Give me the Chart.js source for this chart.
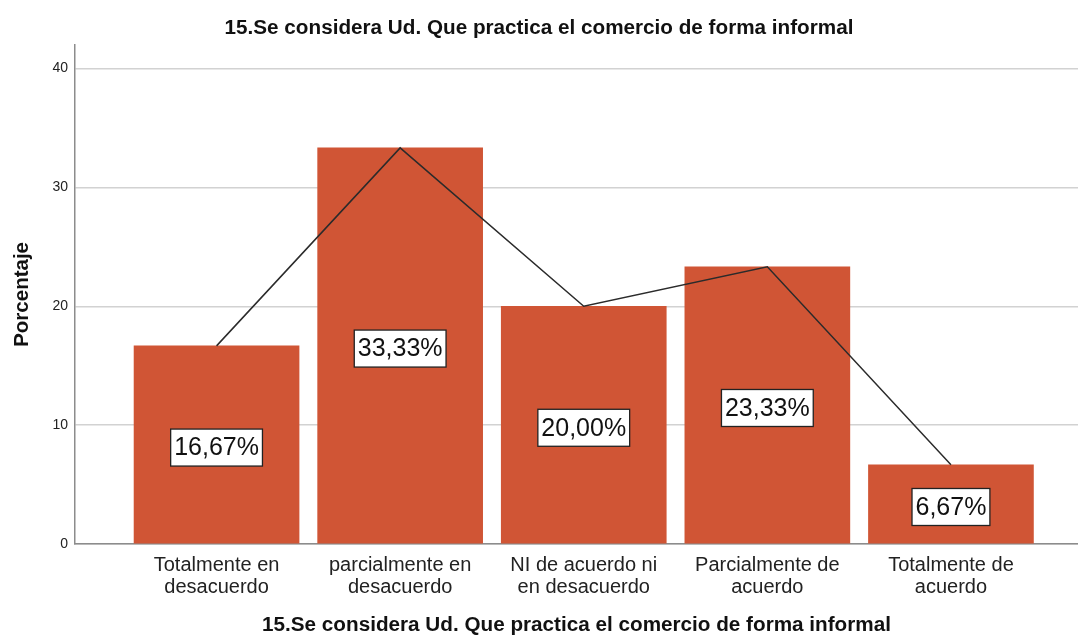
<!DOCTYPE html>
<html>
<head>
<meta charset="utf-8">
<script src="https://cdn.jsdelivr.net/npm/chart.js@4.4.1/dist/chart.umd.min.js"></script>
<style>
  html, body { margin: 0; padding: 0; background: #ffffff; }
  #wrap { width: 1078px; height: 636px; }
</style>
</head>
<body>
<div id="wrap"><canvas id="grafico" width="1078" height="636"></canvas></div>
<script>
// datos del grafico
const categorias = [
  ['Totalmente en', 'desacuerdo'],
  ['parcialmente en', 'desacuerdo'],
  ['NI de acuerdo ni', 'en desacuerdo'],
  ['Parcialmente de', 'acuerdo'],
  ['Totalmente de', 'acuerdo']
];
const porcentajes = [16.67, 33.33, 20.00, 23.33, 6.67];
const ticksY = [0, 10, 20, 30, 40];
const titulo = '15.Se considera Ud. Que practica el comercio de forma informal';

const FUENTE = "'Liberation Sans', Arial, sans-serif";
const posiciones = categorias.map((c, i) => i + 1);
const puntos = porcentajes.map((v, i) => ({ x: posiciones[i], y: v }));

// etiquetas con recuadro blanco en el centro de cada barra
const etiquetasBarras = {
  id: 'etiquetasBarras',
  afterDatasetsDraw(chart) {
    const meta = chart.getDatasetMeta(1);
    const ctx = chart.ctx;
    ctx.save();
    ctx.font = '25px ' + FUENTE;
    ctx.textAlign = 'center';
    ctx.textBaseline = 'middle';
    meta.data.forEach((bar, i) => {
      const txt = porcentajes[i].toFixed(2).replace('.', ',') + '%';
      const w = ctx.measureText(txt).width + 7;
      const h = 37;
      const cx = bar.x;
      const cy = (bar.y + bar.base) / 2 + 3;
      ctx.fillStyle = '#ffffff';
      ctx.fillRect(cx - w / 2, cy - h / 2, w, h);
      ctx.strokeStyle = '#222222';
      ctx.lineWidth = 1.3;
      ctx.strokeRect(cx - w / 2, cy - h / 2, w, h);
      ctx.fillStyle = '#111111';
      ctx.fillText(txt, cx, cy + 1);
    });
    ctx.restore();
  }
};

new Chart(document.getElementById('grafico'), {
  type: 'bar',
  data: {
    datasets: [
      {
        type: 'line',
        data: puntos,
        borderColor: '#2b2b2b',
        borderWidth: 1.5,
        pointRadius: 0,
        tension: 0,
        order: 0
      },
      {
        type: 'bar',
        data: puntos,
        backgroundColor: '#d05535',
        borderWidth: 0,
        barThickness: 165,
        order: 1
      }
    ]
  },
  options: {
    responsive: false,
    devicePixelRatio: 1,
    animation: false,
    layout: { padding: { left: 0, right: 0, top: 0, bottom: 0 } },
    plugins: {
      legend: { display: false },
      tooltip: { enabled: false },
      title: {
        display: true,
        text: titulo,
        color: '#111111',
        font: { family: FUENTE, size: 20.7, weight: 'bold', lineHeight: 1.2 },
        padding: { top: 16, bottom: 4 }
      }
    },
    scales: {
      x: {
        type: 'linear',
        offset: false,
        min: 0.229,
        max: 5.692,
        grid: { display: false, drawTicks: false, offset: false },
        border: { display: true, color: '#8c8c8c', width: 1.5 },
        afterBuildTicks: s => { s.ticks = posiciones.map(v => ({ value: v })); },
        afterFit: s => { s.height = 92; },
        ticks: {
          autoSkip: false,
          maxRotation: 0,
          padding: 10,
          color: '#222222',
          font: { family: FUENTE, size: 20, lineHeight: 1.1 },
          callback: v => categorias[Math.round(v) - 1]
        },
        title: {
          display: true,
          text: titulo,
          color: '#111111',
          font: { family: FUENTE, size: 20.7, weight: 'bold', lineHeight: 1.0 },
          padding: { top: 0, bottom: 0 }
        }
      },
      y: {
        min: 0,
        max: 42,
        grid: { color: '#d2d2d2', lineWidth: 1.5, drawTicks: false },
        border: { display: true, color: '#8c8c8c', width: 1.5 },
        afterBuildTicks: s => { s.ticks = ticksY.map(v => ({ value: v })); },
        afterFit: s => { s.width = 75; },
        ticks: {
          padding: 7,
          color: '#222222',
          font: { family: FUENTE, size: 14 }
        },
        title: {
          display: true,
          text: 'Porcentaje',
          color: '#111111',
          font: { family: FUENTE, size: 20.5, weight: 'bold', lineHeight: 1.2 },
          padding: { top: 10, bottom: 0 }
        }
      }
    }
  },
  plugins: [etiquetasBarras]
});
</script>
</body>
</html>
